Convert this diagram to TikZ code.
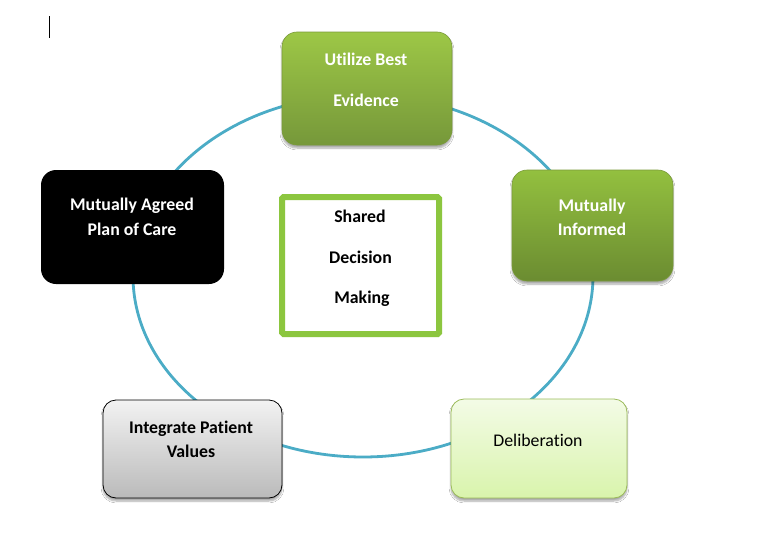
\documentclass[tikz,border=0pt]{standalone}
\usepackage{fontspec}
\setmainfont[Ligatures=NoCommon]{Carlito}
\usetikzlibrary{shadows.blur}
\definecolor{ring}{HTML}{4BACC6}
\definecolor{gtopA}{HTML}{9DC746}
\definecolor{gbotA}{HTML}{76983A}
\definecolor{gtopB}{HTML}{93C03F}
\definecolor{gbotB}{HTML}{6B8C31}
\definecolor{gedge}{HTML}{7A9A3A}
\definecolor{ltop}{HTML}{F3FBE6}
\definecolor{lbot}{HTML}{D9F4AC}
\definecolor{ledge}{HTML}{9BBB59}
\definecolor{frame}{HTML}{8CC63F}
\tikzset{
  box/.style={rectangle, rounded corners=15pt, inner sep=0pt},
  shade/.style={blur shadow={shadow xshift=0pt, shadow yshift=-3pt, shadow blur steps=6, shadow opacity=35}},
  wtxt/.style={anchor=base, text=white, font=\fontsize{17.8}{20}\selectfont\bfseries, inner sep=0pt},
  btxt/.style={anchor=base, text=black, font=\fontsize{17.8}{20}\selectfont\bfseries, inner sep=0pt},
  rtxt/.style={anchor=base, text=black, font=\fontsize{17.8}{20}\selectfont, inner sep=0pt},
}
\begin{document}
\begin{tikzpicture}[x=1pt, y=-1pt]
\useasboundingbox[fill=white] (0,0) rectangle (784,538);
% text cursor mark
\coordinate (c1) at (49,16);
\coordinate (c2) at (49,38);
\draw[line width=1pt, black] (c1) -- (c2);
% cycle ring
\draw[ring, line width=2.8pt] (363,276) ellipse [x radius=230, y radius=181];
% boxes
\node[box, shade, draw=gedge, line width=0.6pt, top color=gtopA, bottom color=gbotA,
  minimum width=170pt, minimum height=113pt] (evid) at (367,88.5) {};
\node[box, shade, draw=gedge, line width=0.6pt, top color=gtopB, bottom color=gbotB,
  minimum width=161pt, minimum height=111pt] (inf) at (592.5,225.5) {};
\node[box, shade, draw=ledge, line width=0.8pt, top color=ltop, bottom color=lbot,
  rounded corners=13pt, minimum width=176pt, minimum height=99pt] (delib) at (539,448.5) {};
\node[box, shade, draw=black, line width=0.8pt, top color=white!95!black, bottom color=black!27,
  rounded corners=13pt, minimum width=179pt, minimum height=98pt] (integ) at (192.5,449) {};
\node[box, fill=black, minimum width=183pt, minimum height=114pt] (plan) at (132.5,227) {};
\node[rectangle, draw=frame, line width=6pt, fill=white, inner sep=0pt, rounded corners=1.5pt,
  minimum width=157pt, minimum height=137pt] (sdm) at (360.5,265.5) {};
% texts
\node[wtxt] (evid1) at (366,65) {Utilize Best};
\node[wtxt] (evid2) at (366,106) {Evidence};
\node[wtxt] (inf1) at (592,211) {Mutually};
\node[wtxt] (inf2) at (592,235) {Informed};
\node[rtxt] (delib1) at (538,446) {Deliberation};
\node[btxt] (integ1) at (191,433) {Integrate Patient};
\node[btxt] (integ2) at (191,457) {Values};
\node[wtxt] (plan1) at (132,210) {Mutually Agreed};
\node[wtxt] (plan2) at (132,235) {Plan of Care};
\node[btxt] (sdm1) at (360,222) {Shared};
\node[btxt] (sdm2) at (360.5,263) {Decision};
\node[btxt] (sdm3) at (362,303) {Making};
\end{tikzpicture}
\end{document}
